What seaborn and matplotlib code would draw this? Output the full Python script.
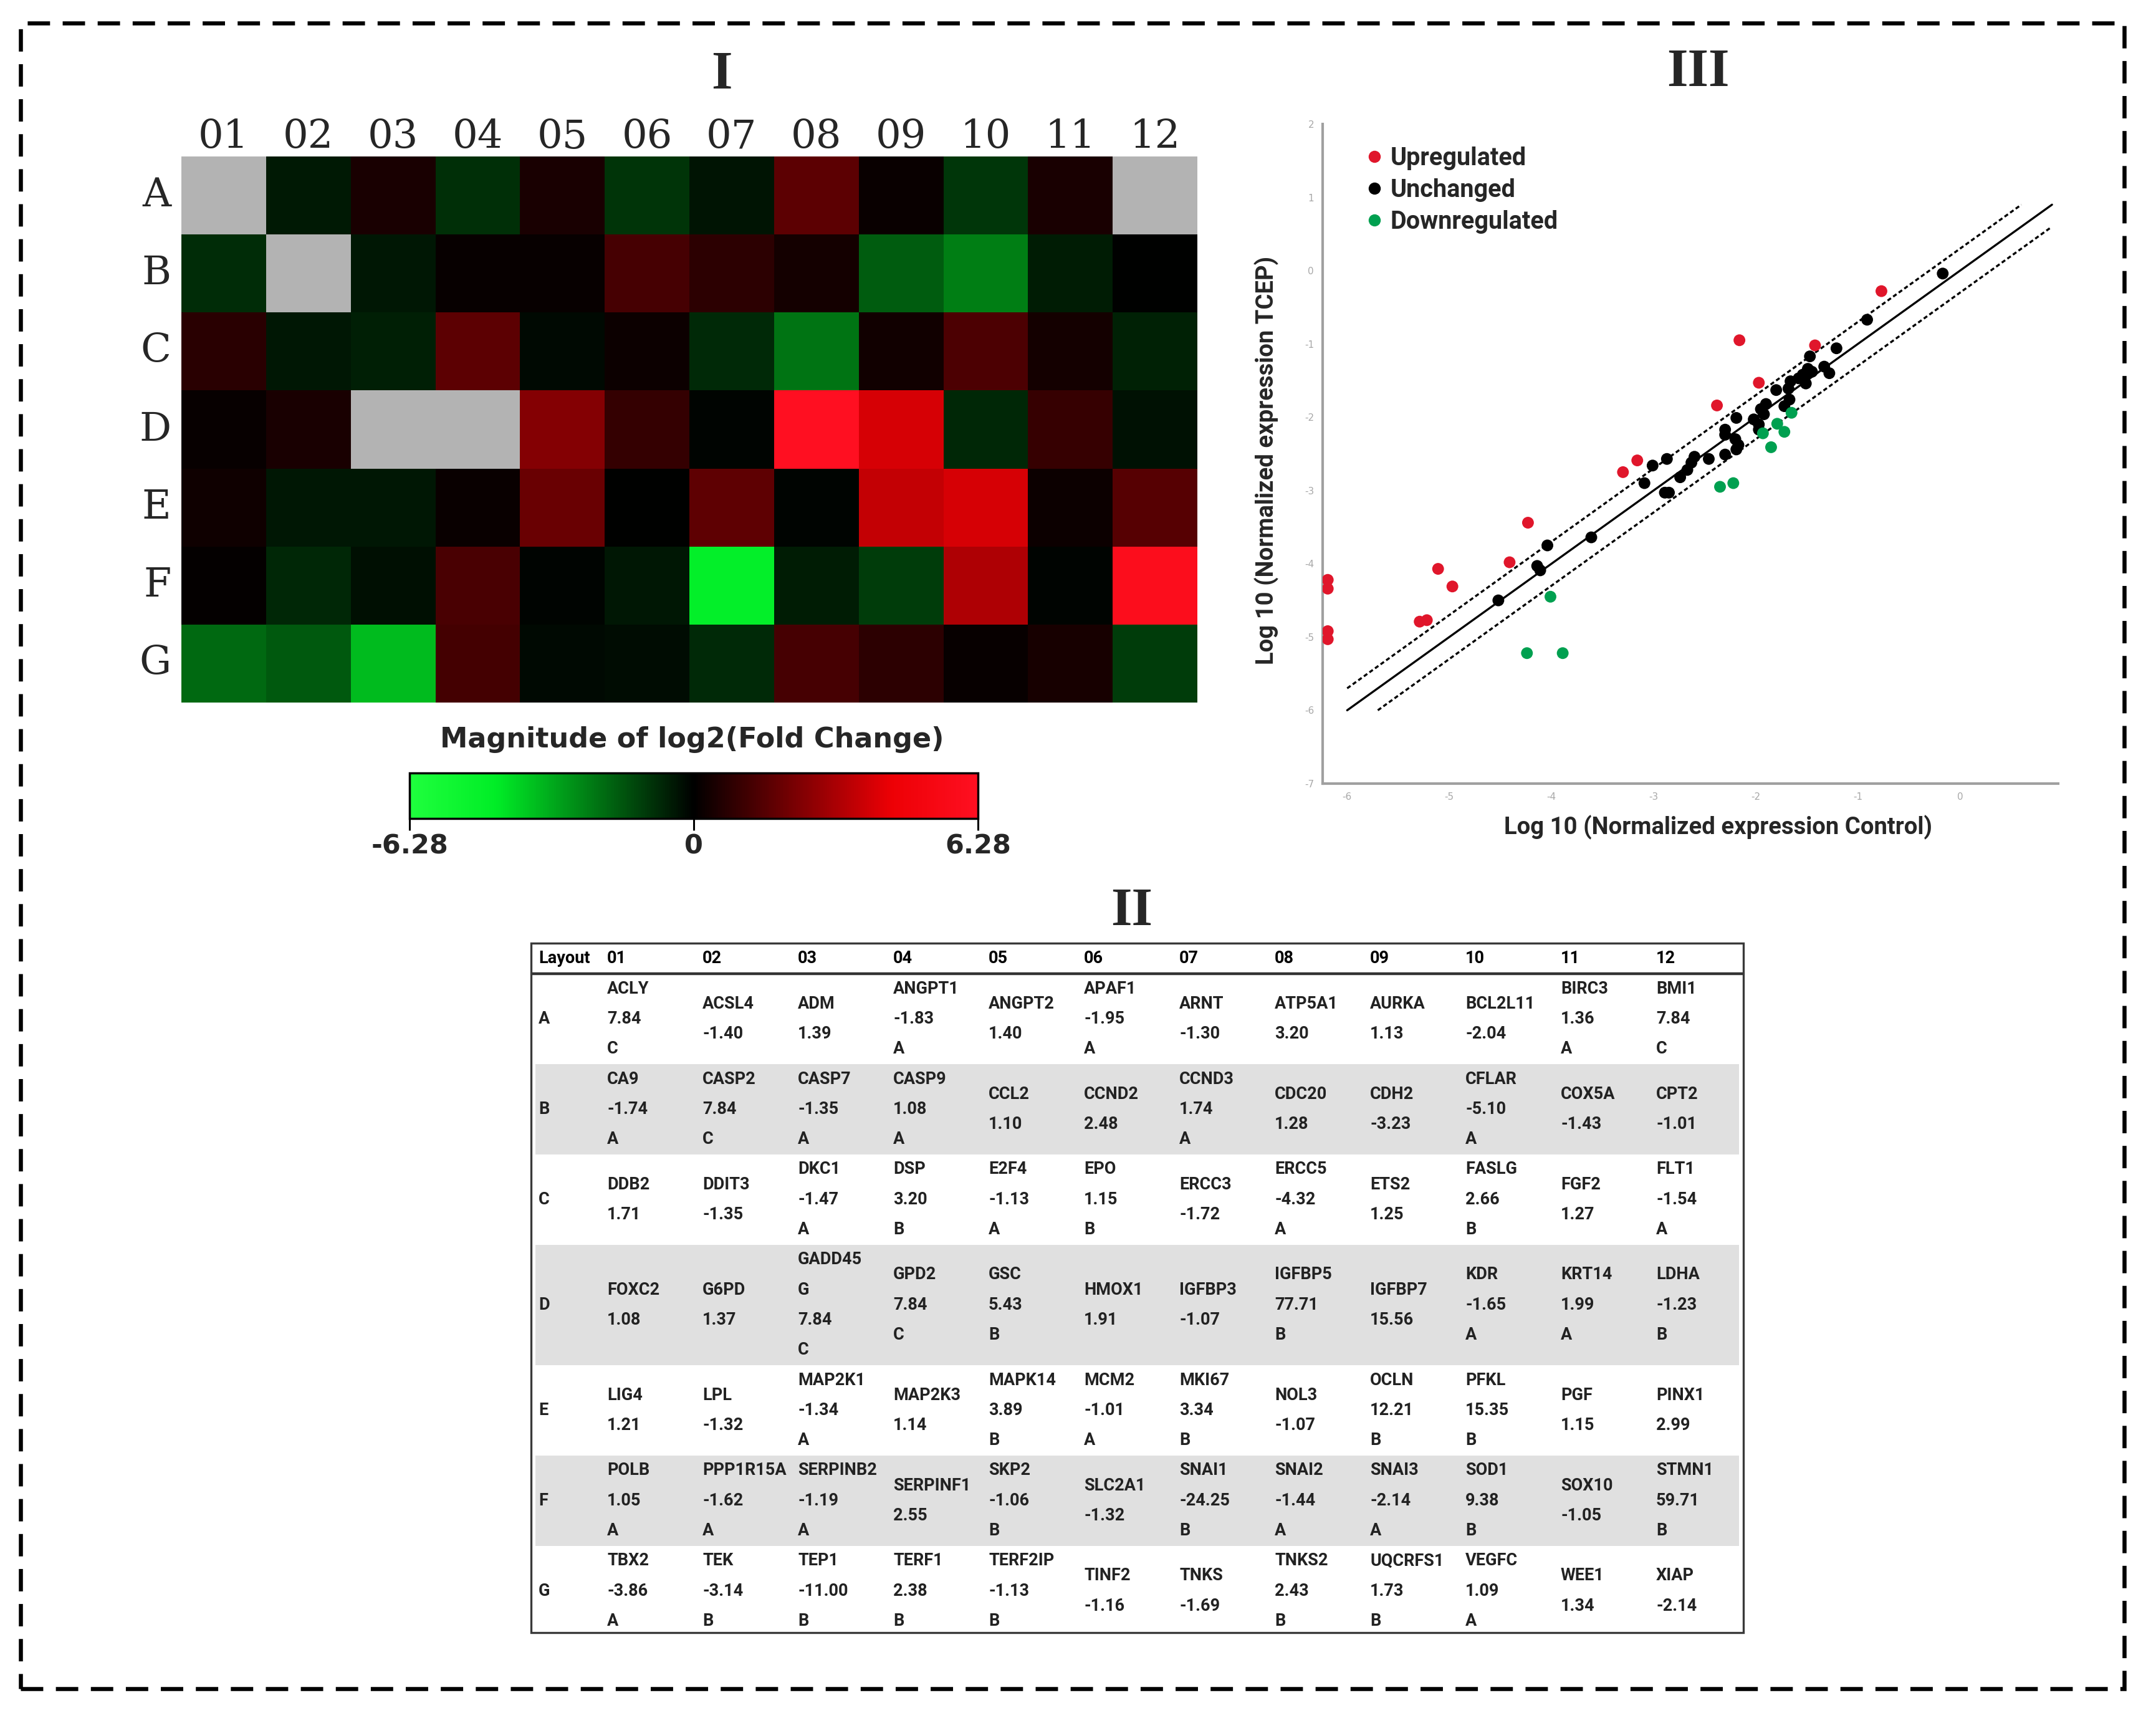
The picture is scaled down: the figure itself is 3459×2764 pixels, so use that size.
import matplotlib
matplotlib.use("Agg")
import matplotlib.pyplot as plt
from matplotlib.colors import LinearSegmentedColormap
from matplotlib.patches import Rectangle
import numpy as np
import pandas as pd
import seaborn as sns

sns.set_theme(style="white")
plt.rcParams["font.family"] = ["DejaVu Sans"]
plt.rcParams["axes.unicode_minus"] = False

# ── Data ──────────────────────────────────────────────────────────────────────
rows = list("ABCDEFG")
cols = [f"{i:02d}" for i in range(1, 13)]

genes = [
    ["ACLY", "ACSL4", "ADM", "ANGPT1", "ANGPT2", "APAF1", "ARNT", "ATP5A1", "AURKA", "BCL2L11", "BIRC3", "BMI1"],
    ["CA9", "CASP2", "CASP7", "CASP9", "CCL2", "CCND2", "CCND3", "CDC20", "CDH2", "CFLAR", "COX5A", "CPT2"],
    ["DDB2", "DDIT3", "DKC1", "DSP", "E2F4", "EPO", "ERCC3", "ERCC5", "ETS2", "FASLG", "FGF2", "FLT1"],
    ["FOXC2", "G6PD", "GADD45G", "GPD2", "GSC", "HMOX1", "IGFBP3", "IGFBP5", "IGFBP7", "KDR", "KRT14", "LDHA"],
    ["LIG4", "LPL", "MAP2K1", "MAP2K3", "MAPK14", "MCM2", "MKI67", "NOL3", "OCLN", "PFKL", "PGF", "PINX1"],
    ["POLB", "PPP1R15A", "SERPINB2", "SERPINF1", "SKP2", "SLC2A1", "SNAI1", "SNAI2", "SNAI3", "SOD1", "SOX10", "STMN1"],
    ["TBX2", "TEK", "TEP1", "TERF1", "TERF2IP", "TINF2", "TNKS", "TNKS2", "UQCRFS1", "VEGFC", "WEE1", "XIAP"],
]
fold_reg = [
    [7.84, -1.40, 1.39, -1.83, 1.40, -1.95, -1.30, 3.20, 1.13, -2.04, 1.36, 7.84],
    [-1.74, 7.84, -1.35, 1.08, 1.10, 2.48, 1.74, 1.28, -3.23, -5.10, -1.43, -1.01],
    [1.71, -1.35, -1.47, 3.20, -1.13, 1.15, -1.72, -4.32, 1.25, 2.66, 1.27, -1.54],
    [1.08, 1.37, 7.84, 7.84, 5.43, 1.91, -1.07, 77.71, 15.56, -1.65, 1.99, -1.23],
    [1.21, -1.32, -1.34, 1.14, 3.89, -1.01, 3.34, -1.07, 12.21, 15.35, 1.15, 2.99],
    [1.05, -1.62, -1.19, 2.55, -1.06, -1.32, -24.25, -1.44, -2.14, 9.38, -1.05, 59.71],
    [-3.86, -3.14, -11.00, 2.38, -1.13, -1.16, -1.69, 2.43, 1.73, 1.09, 1.34, -2.14],
]
groups = [
    ["C", "", "", "A", "", "A", "", "", "", "", "A", "C"],
    ["A", "C", "A", "A", "", "", "A", "", "", "A", "", ""],
    ["", "", "A", "B", "A", "B", "", "A", "", "B", "", "A"],
    ["", "", "C", "C", "B", "", "", "B", "", "A", "A", "B"],
    ["", "", "A", "", "B", "A", "B", "", "B", "B", "", ""],
    ["A", "A", "A", "", "B", "", "B", "A", "A", "B", "", "B"],
    ["A", "B", "B", "B", "B", "", "", "B", "B", "A", "", ""],
]
wrapped_names = {"GADD45G": "GADD45\nG"}
cbar_limit = 6.28

# scatter: log10 normalized expression, control (x) vs TCEP (y)
up_x = [-0.77, -2.16, -1.42, -1.97, -2.38, -3.16, -3.30, -4.23, -4.41, -5.11, -4.97, -5.29, -5.22,
        -6.19, -6.19, -6.19, -6.19]
up_y = [-0.28, -0.95, -1.02, -1.53, -1.84, -2.59, -2.75, -3.44, -3.98, -4.07, -4.31, -4.79, -4.77,
        -4.22, -4.34, -4.92, -5.03]
down_x = [-1.65, -1.79, -1.72, -1.93, -1.85, -2.22, -2.35, -4.01, -4.24, -3.89]
down_y = [-1.94, -2.09, -2.20, -2.22, -2.41, -2.90, -2.95, -4.45, -5.22, -5.22]
same_x = [-0.17, -0.91, -1.21, -1.47, -1.49, -1.54, -1.51, -1.33, -1.28, -1.45, -1.52, -1.58,
          -1.66, -1.68, -1.80, -1.67, -1.72, -1.90, -1.95, -1.92, -2.19, -2.02, -1.97, -1.97,
          -2.30, -2.30, -2.20, -2.17, -2.19, -2.30, -2.46, -2.60, -2.87, -2.63, -2.67, -2.74,
          -3.01, -3.09, -2.89, -2.85, -3.61, -4.04, -4.14, -4.11, -4.52]
same_y = [-0.04, -0.67, -1.06, -1.17, -1.34, -1.42, -1.54, -1.31, -1.40, -1.38, -1.45, -1.47,
          -1.51, -1.61, -1.63, -1.76, -1.85, -1.82, -1.89, -1.96, -2.01, -2.03, -2.10, -2.17,
          -2.17, -2.24, -2.30, -2.38, -2.44, -2.51, -2.57, -2.54, -2.57, -2.62, -2.72, -2.82,
          -2.66, -2.90, -3.03, -3.03, -3.64, -3.75, -4.03, -4.09, -4.50]
status_order = ["Upregulated", "Unchanged", "Downregulated"]
status_colors = ["#e0162b", "#000000", "#00a050"]
# identity line and the +/- 2-fold boundaries (log10 2 ~ 0.3)
fold_line = 0.3
diag_x = [-6.0, 0.9]
upper_x = [-6.0, 0.6]
lower_x = [-5.7, 0.88]

# ── Figure ────────────────────────────────────────────────────────────────────
W, H = 3459, 2764
fig = plt.figure(figsize=(W / 100, H / 100), dpi=100)


def fx(px):
    return px / W


def fy(py):
    return 1 - py / H


# ── Panel I: heatmap ──────────────────────────────────────────────────────────
fold = np.array(fold_reg)
log2fc = np.sign(fold) * np.log2(np.abs(fold))
heat = pd.DataFrame(log2fc, index=rows, columns=cols)
mask = np.array(groups) == "C"

cmap = LinearSegmentedColormap.from_list("gbr", [
    (0.0, (0.12, 1.0, 0.24)),
    (0.15, (0.0, 0.93, 0.15)),
    (0.5, (0.0, 0.0, 0.0)),
    (0.85, (0.93, 0.0, 0.02)),
    (1.0, (1.0, 0.06, 0.13)),
])

ax_hm = fig.add_axes([fx(291), fy(1127), fx(1921) - fx(291), fy(251) - fy(1127)])
ax_cb = fig.add_axes([fx(657), fy(1313), fx(1569) - fx(657), fy(1240) - fy(1313)])
ax_hm.set_facecolor("#b3b3b3")
sns.heatmap(heat, mask=mask, cmap=cmap, vmin=-cbar_limit, vmax=cbar_limit, ax=ax_hm,
            cbar_ax=ax_cb, cbar_kws={"orientation": "horizontal"}, linewidths=0)
ax_hm.xaxis.tick_top()
ax_hm.tick_params(length=0, labelsize=46, pad=0)
ax_hm.tick_params(axis="y", pad=12, labelrotation=0)
for t in ax_hm.get_xticklabels() + ax_hm.get_yticklabels():
    t.set_fontfamily("DejaVu Serif")
ax_hm.set_xlabel("")
ax_hm.set_ylabel("")

cbar = ax_hm.collections[0].colorbar
cbar.set_ticks([-cbar_limit, 0, cbar_limit], labels=["-6.28", "0", "6.28"])
cbar.outline.set_edgecolor("black")
cbar.outline.set_linewidth(2.5)
ax_cb.tick_params(axis="x", length=14, width=2.2, color="black", labelsize=31, pad=3, bottom=True)
for t in ax_cb.get_xticklabels():
    t.set_fontweight("bold")
fig.text(fx(1110), fy(1187), "Magnitude of log2(Fold Change)", ha="center", va="center",
         fontsize=32, fontweight="bold")

# ── Panel III: scatter ────────────────────────────────────────────────────────
scatter_df = pd.concat([
    pd.DataFrame({"x": up_x, "y": up_y, "status": status_order[0]}),
    pd.DataFrame({"x": same_x, "y": same_y, "status": status_order[1]}),
    pd.DataFrame({"x": down_x, "y": down_y, "status": status_order[2]}),
], ignore_index=True)

ax_sc = fig.add_axes([fx(2122), fy(1257), fx(3302) - fx(2122), fy(199) - fy(1257)])
dash = (0, (2.0, 1.3))
ax_sc.plot(diag_x, diag_x, color="black", lw=2.4, zorder=2)
ax_sc.plot(upper_x, np.array(upper_x) + fold_line, color="black", lw=2.4, ls=dash, zorder=2)
ax_sc.plot(lower_x, np.array(lower_x) - fold_line, color="black", lw=2.4, ls=dash, zorder=2)
sns.scatterplot(data=scatter_df, x="x", y="y", hue="status", hue_order=status_order,
                palette=status_colors, s=185, edgecolor="none", ax=ax_sc, zorder=3)

ax_sc.set_xlim(-6.24, 0.96)
ax_sc.set_ylim(-7, 2)
ax_sc.set_xticks(range(-6, 1))
ax_sc.set_yticks(range(-7, 3))
ax_sc.tick_params(length=0, labelsize=11, labelcolor="#a8a8a8", pad=10)
for side in ("top", "right"):
    ax_sc.spines[side].set_visible(False)
for side in ("left", "bottom"):
    ax_sc.spines[side].set_color("#a0a0a0")
    ax_sc.spines[side].set_linewidth(3)
ax_sc.set_xlabel("")
ax_sc.set_ylabel("")
lab_font = {"family": ["Roboto", "DejaVu Sans"], "weight": "bold", "size": 27.5}
ax_sc.text(0.538, -0.066, "Log 10 (Normalized expression Control)", transform=ax_sc.transAxes,
           ha="center", va="center", fontdict=lab_font)
ax_sc.text(-0.076, 0.49, "Log 10 (Normalized expression TCEP)", transform=ax_sc.transAxes,
           ha="center", va="center", rotation=90, fontdict=lab_font)
leg = ax_sc.legend(loc="upper left", bbox_to_anchor=(0.04, 0.985), frameon=False,
                   handletextpad=0.25, handlelength=0.8, labelspacing=0.33, borderpad=0,
                   prop={"family": ["Roboto", "DejaVu Sans"], "weight": "bold", "size": 28.5})
for h in leg.legend_handles:
    h.set_markersize(14)

# ── Panel II: table ───────────────────────────────────────────────────────────
tb_left, tb_top, tb_right, tb_bottom = 852, 1513, 2797, 2619
ax_tb = fig.add_axes([fx(tb_left), fy(tb_bottom), fx(tb_right) - fx(tb_left), fy(tb_top) - fy(tb_bottom)])
tw, th = tb_right - tb_left, tb_bottom - tb_top
ax_tb.set_xlim(0, tw)
ax_tb.set_ylim(th, 0)
ax_tb.axis("off")

line_h = 48.3
header_h = 49
col_x0, col_dx = 122, 153
cell_font = {"family": ["Roboto", "DejaVu Sans"], "weight": "bold", "size": 19.5,
             "color": "#222222"}

cells = []
for r in range(len(rows)):
    row_cells = []
    for c in range(len(cols)):
        lines = wrapped_names.get(genes[r][c], genes[r][c]).split("\n")
        lines.append(f"{fold_reg[r][c]:.2f}")
        if groups[r][c]:
            lines.append(groups[r][c])
        row_cells.append(lines)
    cells.append(row_cells)
row_heights = [line_h * max(len(cl) for cl in rc) for rc in cells]

y = header_h
for r, rc in enumerate(cells):
    rh = row_heights[r]
    if r % 2 == 1:
        ax_tb.add_patch(Rectangle((7, y), tw - 14, rh, facecolor="#e0e0e0", edgecolor="none", zorder=0))
    mid = y + rh / 2
    ax_tb.text(12, mid, rows[r], ha="left", va="center", fontdict=cell_font)
    for c, lines in enumerate(rc):
        start = mid - line_h * (len(lines) - 1) / 2
        for k, txt in enumerate(lines):
            ax_tb.text(col_x0 + col_dx * c, start + k * line_h, txt, ha="left", va="center",
                       fontdict=cell_font)
    y += rh

ax_tb.text(12, header_h / 2, "Layout", ha="left", va="center", fontdict={**cell_font, "color": "black"})
for c, name in enumerate(cols):
    ax_tb.text(col_x0 + col_dx * c, header_h / 2, name, ha="left", va="center",
               fontdict={**cell_font, "color": "black"})
ax_tb.plot([0, tw], [header_h, header_h], color="#333333", lw=3.2, zorder=3)
ax_tb.add_patch(Rectangle((0, 0), tw, th, fill=False, edgecolor="#3a3a3a", lw=2.4, zorder=4,
                          clip_on=False))

# ── Panel titles and dashed frame ─────────────────────────────────────────────
title_font = {"family": ["Liberation Serif", "DejaVu Serif"], "weight": "bold", "size": 62}
fig.text(fx(1158), fy(121), "I", ha="center", va="center", fontdict=title_font)
fig.text(fx(2724), fy(117), "III", ha="center", va="center", fontdict=title_font)
fig.text(fx(1816), fy(1463), "II", ha="center", va="center", fontdict=title_font)

fig.patches.append(Rectangle((fx(33), fy(2709)), fx(3408) - fx(33), fy(37) - fy(2709),
                             transform=fig.transFigure, fill=False, edgecolor="black",
                             lw=4.7, ls=(0, (5.5, 3.1))))

fig.savefig("out.png", dpi=100, facecolor="white")
plt.close(fig)
